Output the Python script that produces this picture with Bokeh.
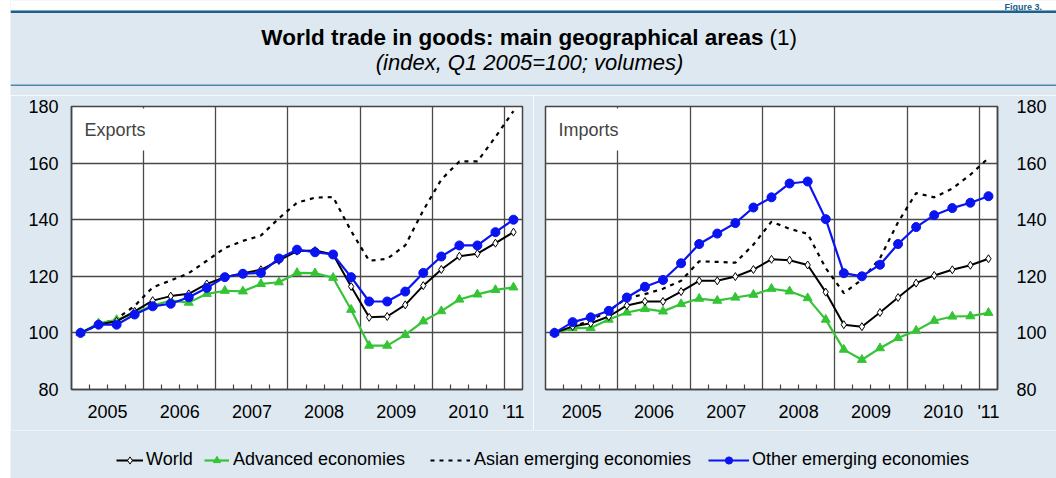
from bokeh.plotting import figure
from bokeh.models import Range1d, FixedTicker, Label, Legend, LegendItem, BoxAnnotation, Span, Spacer
from bokeh.layouts import column, row
from bokeh.embed import file_html
from bokeh.resources import INLINE

# ---------------- data ----------------
quarters = ["2005Q1", "2005Q2", "2005Q3", "2005Q4",
            "2006Q1", "2006Q2", "2006Q3", "2006Q4",
            "2007Q1", "2007Q2", "2007Q3", "2007Q4",
            "2008Q1", "2008Q2", "2008Q3", "2008Q4",
            "2009Q1", "2009Q2", "2009Q3", "2009Q4",
            "2010Q1", "2010Q2", "2010Q3", "2010Q4",
            "2011Q1"]
year_labels = ["2005", "2006", "2007", "2008", "2009", "2010", "'11"]
y_ticks = [80, 100, 120, 140, 160, 180]

exports_world = [100, 103.0, 104.1, 107.6, 111.4, 113.0, 113.8, 117.3, 119.7, 121.1, 122.3, 125.6,
                 128.9, 129.1, 127.7, 116.4, 105.5, 105.8, 109.9, 116.7, 122.4, 127.1, 128.0, 131.7, 135.6]
exports_adv = [100, 103.4, 104.6, 107.0, 109.7, 111.4, 110.7, 113.8, 114.9, 114.7, 117.3, 117.9,
               121.2, 121.1, 119.5, 108.2, 95.5, 95.5, 99.3, 104.1, 107.7, 111.8, 113.6, 115.2, 116.1]
exports_asia = [100, 102.8, 105.0, 109.5, 116.1, 118.5, 121.1, 125.5, 130.0, 132.5, 134.4, 140.5,
                146.0, 147.8, 148.0, 136.0, 125.5, 126.2, 130.9, 143.3, 154.2, 160.6, 160.6, 169.2, 178.4]
exports_other = [100, 102.9, 102.9, 106.5, 109.4, 110.3, 112.6, 115.9, 119.7, 120.9, 121.2, 126.3,
                 129.4, 128.5, 127.7, 119.7, 111.1, 111.1, 114.6, 121.2, 127.0, 130.9, 130.9, 135.6, 140.0]

imports_world = [100, 102.3, 103.4, 105.8, 109.7, 111.1, 111.1, 114.6, 118.4, 118.4, 119.9, 122.4,
                 126.0, 125.7, 124.0, 114.4, 102.9, 102.2, 107.2, 112.5, 117.6, 120.3, 122.3, 123.9, 126.2]
imports_adv = [100, 101.7, 101.7, 104.7, 107.2, 108.5, 107.6, 110.2, 112.1, 111.4, 112.5, 113.5,
               115.6, 114.7, 112.3, 104.7, 94.1, 90.5, 94.6, 98.2, 100.8, 104.3, 105.8, 105.9, 107.1]
imports_asia = [100, 102.0, 104.6, 107.8, 112.3, 113.7, 115.6, 118.4, 125.3, 125.1, 124.8, 131.2,
                139.3, 136.8, 135.0, 122.9, 114.1, 118.8, 126.4, 139.1, 149.4, 147.9, 151.0, 155.9, 161.8]
imports_other = [100, 103.8, 105.5, 107.8, 112.5, 116.3, 118.7, 124.6, 131.4, 135.1, 138.8, 144.3,
                 147.9, 152.8, 153.5, 140.2, 121.1, 120.0, 124.1, 131.4, 137.4, 141.6, 144.1, 146.0, 148.3]

series_names = ["World", "Advanced economies", "Asian emerging economies", "Other emerging economies"]

# ---------------- styles ----------------
BAND = "#dde8f1"
RULE = "#1d5f8d"
FRAME = "#444444"
GREEN = "#35c435"
BLUE = "#0a14f0"
FONT = "Liberation Sans"
FS = "18px"

# derived positions from the categories
xs = [i + 0.5 for i in range(len(quarters))]
years = [q[:4] for q in quarters]
uniq_years = []
for y in years:
    if y not in uniq_years:
        uniq_years.append(y)
label_pos = []
for y in uniq_years:
    pts = [x for x, yy in zip(xs, years) if yy == y]
    label_pos.append(sum(pts) / len(pts) if len(pts) > 1 else pts[0])
year_bounds = [i for i in range(1, len(quarters)) if years[i] != years[i - 1]]
minor = [i for i in range(1, len(quarters)) if i not in year_bounds]


def panel(name, world, adv, asia, other, width, bl, br, yloc, standoff):
    p = figure(width=width, height=335, x_range=Range1d(0, len(quarters)), y_range=Range1d(80, 180),
               toolbar_location=None, output_backend="svg", y_axis_location=yloc,
               min_border_left=bl, min_border_right=br, min_border_top=11, min_border_bottom=41,
               background_fill_color="white", border_fill_color=BAND,
               outline_line_color=FRAME, outline_line_width=1.5)
    p.xgrid.ticker = FixedTicker(ticks=year_bounds)
    p.ygrid.ticker = FixedTicker(ticks=[100, 120, 140, 160])
    p.grid.grid_line_color = "#4a4a4a"
    p.grid.grid_line_width = 1.3
    p.grid.level = "underlay"

    xa = p.xaxis[0]
    xa.ticker = FixedTicker(ticks=label_pos, minor_ticks=minor)
    xa.major_label_overrides = {float(k): v for k, v in zip(label_pos, year_labels)}
    xa.major_tick_in = 0
    xa.major_tick_out = 0
    xa.minor_tick_in = 5
    xa.minor_tick_out = 0
    xa.minor_tick_line_color = FRAME
    xa.minor_tick_line_width = 1.2
    xa.axis_line_color = FRAME
    xa.axis_line_width = 1.5
    xa.major_label_standoff = 12

    ya = p.yaxis[0]
    ya.ticker = FixedTicker(ticks=y_ticks)
    ya.major_tick_in = 0
    ya.major_tick_out = 0
    ya.minor_tick_line_color = None
    ya.axis_line_color = FRAME
    ya.axis_line_width = 1.5
    ya.major_label_standoff = standoff

    for ax in (xa, ya):
        ax.major_label_text_font = FONT
        ax.major_label_text_font_size = FS
        ax.major_label_text_color = "black"

    p.line(xs, asia, line_color="black", line_width=2.2, line_dash="4 5")
    p.line(xs, adv, line_color=GREEN, line_width=2.2)
    p.scatter(xs, adv, marker="triangle", size=9, fill_color=GREEN, line_color=GREEN)
    p.line(xs, world, line_color="black", line_width=2)
    p.scatter(xs, world, marker="diamond", size=8, fill_color="white", line_color="black", line_width=1)
    p.line(xs, other, line_color=BLUE, line_width=2.2)
    p.scatter(xs, other, marker="circle", size=9, fill_color=BLUE, line_color=BLUE)

    p.add_layout(Label(x=10, y=260, x_units="screen", y_units="screen", text=name,
                       text_font=FONT, text_font_size=FS, text_baseline="middle",
                       background_fill_color="white", background_fill_alpha=1.0,
                       padding=(3, 11)))
    return p


left = panel("Exports", exports_world, exports_adv, exports_asia, exports_other, 523, 61, 11, "left", 13)
right = panel("Imports", imports_world, imports_adv, imports_asia, imports_other, 523, 12, 59, "right", 19)

# ---------------- header (data coords = page pixels) ----------------
hdr = figure(width=1046, height=95, x_range=Range1d(10, 1056), y_range=Range1d(95, 0),
             x_axis_type=None, y_axis_type=None, toolbar_location=None, output_backend="svg",
             min_border=0, outline_line_color=None, background_fill_color=BAND, border_fill_color=BAND)
hdr.grid.visible = False
hdr.add_layout(BoxAnnotation(top=0, bottom=10, left=10, right=1056, fill_color="white", fill_alpha=1, line_color=None))
hdr.add_layout(BoxAnnotation(top=10, bottom=12.5, left=10, right=1056, fill_color=RULE, fill_alpha=1, line_color=None))
hdr.add_layout(Span(location=84.8, dimension="width", line_color="#4f86ae", line_width=1.5))
hdr.add_layout(Label(x=1004, y=1, text="Figure 3.", text_font=FONT, text_font_size="9px",
                     text_font_style="bold", text_color=RULE, text_baseline="top"))
hdr.add_layout(Label(x=763, y=37, text="World trade in goods: main geographical areas", text_font=FONT,
                     text_font_size="22.5px", text_font_style="bold", text_align="right",
                     text_baseline="middle", text_color="black"))
hdr.add_layout(Label(x=769, y=37, text="(1)", text_font=FONT, text_font_size="22.5px",
                     text_align="left", text_baseline="middle", text_color="black"))
hdr.add_layout(Label(x=529, y=62, text="(index, Q1 2005=100; volumes)", text_font=FONT,
                     text_font_size="22px", text_font_style="italic", text_align="center",
                     text_baseline="middle", text_color="black"))

# ---------------- legend ----------------
lg = figure(width=1046, height=48, x_range=Range1d(0, 1), y_range=Range1d(0, 1),
            x_axis_type=None, y_axis_type=None, toolbar_location=None, output_backend="svg",
            min_border=0, outline_line_color=None, background_fill_color=BAND, border_fill_color=BAND)
lg.grid.visible = False
# legend proxies: one point each, kept outside the visible range so only the legend glyphs show
px, py = [5, 6], [5, 5]
r_w1 = lg.line(px, py, line_color="black", line_width=2)
r_w2 = lg.scatter(px[:1], py[:1], marker="diamond", size=8, fill_color="white", line_color="black")
r_a1 = lg.line(px, py, line_color=GREEN, line_width=2.2)
r_a2 = lg.scatter(px[:1], py[:1], marker="triangle", size=9, fill_color=GREEN, line_color=GREEN)
r_s1 = lg.line(px, py, line_color="black", line_width=2.2, line_dash="4 5")
r_o1 = lg.line(px, py, line_color=BLUE, line_width=2.2)
r_o2 = lg.scatter(px[:1], py[:1], marker="circle", size=9, fill_color=BLUE, line_color=BLUE)

entries = [(series_names[0], [r_w1, r_w2], 106, 27, 3),
           (series_names[1], [r_a1, r_a2], 194, 25, 4),
           (series_names[2], [r_s1], 420, 40, 4),
           (series_names[3], [r_o1, r_o2], 698, 41, 3)]
for label, rends, lx, gw, so in entries:
    lg.add_layout(Legend(items=[LegendItem(label=label, renderers=rends)],
                         location=(lx, 8), orientation="horizontal", glyph_width=gw, glyph_height=18,
                         label_height=18, label_standoff=so, spacing=0, padding=0, margin=0,
                         border_line_color=None, background_fill_alpha=0,
                         label_text_font=FONT, label_text_font_size=FS, label_text_color="black"),
                  "center")

layout = row(Spacer(width=10, height=478), column(hdr, row(left, right), lg))
open("out.html", "w").write(file_html(layout, INLINE))
